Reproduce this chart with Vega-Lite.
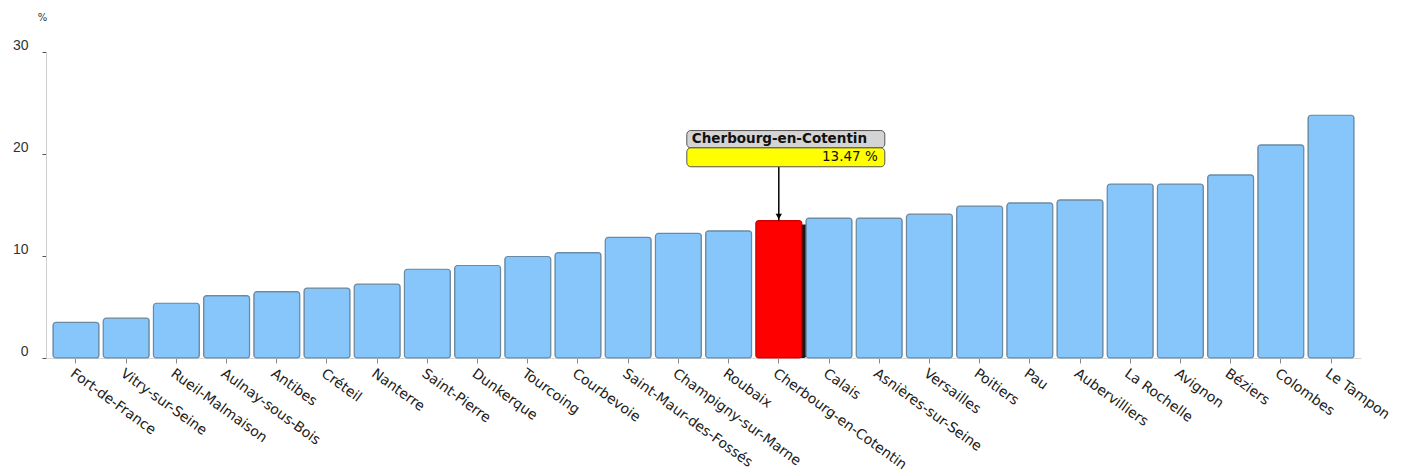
{
  "$schema": "https://vega.github.io/schema/vega-lite/v6.json",
  "autosize": "none",
  "width": 1315,
  "height": 306,
  "padding": {"left": 46, "top": 52, "right": 48, "bottom": 117},
  "background": "white",
  "config": {
    "view": {"stroke": null},
    "font": "DejaVu Sans"
  },
  "data": {
    "values": [
      {"city": "Fort-de-France", "value": 3.5},
      {"city": "Vitry-sur-Seine", "value": 3.9},
      {"city": "Rueil-Malmaison", "value": 5.37},
      {"city": "Aulnay-sous-Bois", "value": 6.12},
      {"city": "Antibes", "value": 6.5},
      {"city": "Créteil", "value": 6.85},
      {"city": "Nanterre", "value": 7.24},
      {"city": "Saint-Pierre", "value": 8.7},
      {"city": "Dunkerque", "value": 9.07},
      {"city": "Tourcoing", "value": 9.95},
      {"city": "Courbevoie", "value": 10.34},
      {"city": "Saint-Maur-des-Fossés", "value": 11.82},
      {"city": "Champigny-sur-Marne", "value": 12.21},
      {"city": "Roubaix", "value": 12.47},
      {"city": "Cherbourg-en-Cotentin", "value": 13.47},
      {"city": "Calais", "value": 13.72},
      {"city": "Asnières-sur-Seine", "value": 13.72},
      {"city": "Versailles", "value": 14.1},
      {"city": "Poitiers", "value": 14.9},
      {"city": "Pau", "value": 15.2},
      {"city": "Aubervilliers", "value": 15.5},
      {"city": "La Rochelle", "value": 17.06},
      {"city": "Avignon", "value": 17.06},
      {"city": "Béziers", "value": 17.95},
      {"city": "Colombes", "value": 20.9},
      {"city": "Le Tampon", "value": 23.8}
    ]
  },
  "encoding": {
    "x": {
      "field": "city",
      "type": "nominal",
      "sort": [
        "Fort-de-France", "Vitry-sur-Seine", "Rueil-Malmaison", "Aulnay-sous-Bois", "Antibes",
        "Créteil", "Nanterre", "Saint-Pierre", "Dunkerque", "Tourcoing", "Courbevoie",
        "Saint-Maur-des-Fossés", "Champigny-sur-Marne", "Roubaix", "Cherbourg-en-Cotentin",
        "Calais", "Asnières-sur-Seine", "Versailles", "Poitiers", "Pau", "Aubervilliers",
        "La Rochelle", "Avignon", "Béziers", "Colombes", "Le Tampon"
      ],
      "scale": {"paddingInner": 0.085, "paddingOuter": 0.14},
      "axis": {
        "title": null,
        "labelAngle": 36,
        "labelAlign": "left",
        "labelBaseline": "top",
        "labelPadding": 3,
        "labelFontSize": 14,
        "labelColor": "#222",
        "labelFont": "DejaVu Sans",
        "tickSize": 5,
        "tickColor": "#888",
        "domainColor": "#d8d8d8",
        "labelOverlap": false
      }
    },
    "y": {
      "field": "value",
      "type": "quantitative",
      "scale": {"domain": [0, 30], "nice": false},
      "axis": {
        "values": [0, 10, 20, 30],
        "grid": false,
        "tickSize": 4,
        "tickColor": "#555",
        "domainColor": "#cfcfcf",
        "labelPadding": 14,
        "labelFontSize": 14,
        "labelColor": "#333",
        "labelFont": "Liberation Sans",
        "labelBaseline": "bottom",
        "labelAlign": "right",
        "title": "%",
        "titleAngle": 0,
        "titleFontSize": 10,
        "titleFontWeight": "normal",
        "titleColor": "#333",
        "titleX": -4,
        "titleY": -35,
        "titleAlign": "center",
        "titleBaseline": "middle"
      }
    }
  },
  "layer": [
    {
      "transform": [{"filter": "datum.city === 'Cherbourg-en-Cotentin'"}],
      "mark": {"type": "bar", "color": "#000000", "opacity": 0.9, "cornerRadius": 3, "xOffset": 5, "yOffset": 4}
    },
    {
      "mark": {"type": "bar", "cornerRadius": 3, "strokeWidth": 1.2},
      "encoding": {
        "color": {
          "condition": {"test": "datum.city === 'Cherbourg-en-Cotentin'", "value": "#ff0000"},
          "value": "#86c6fb"
        },
        "stroke": {
          "condition": {"test": "datum.city === 'Cherbourg-en-Cotentin'", "value": "#d00000"},
          "value": "#6a8aa3"
        }
      }
    },
    {
      "transform": [
        {"filter": "datum.city === 'Cherbourg-en-Cotentin'"},
        {"calculate": "format(datum.value, '.2f') + ' %'", "as": "valueLabel"}
      ],
      "layer": [
        {
          "mark": {"type": "rule", "color": "#000000", "strokeWidth": 1.5},
          "encoding": {"y": {"datum": 18.75}, "y2": {"field": "value"}}
        },
        {
          "mark": {"type": "point", "shape": "triangle-down", "filled": true, "color": "#000000", "size": 40, "opacity": 1, "yOffset": -4},
          "encoding": {"y": {"field": "value"}}
        },
        {
          "mark": {"type": "bar", "width": 198, "xOffset": 7, "cornerRadius": 4, "fill": "#d4d4d4", "stroke": "#555555", "strokeWidth": 1},
          "encoding": {"y": {"datum": 20.6}, "y2": {"datum": 22.3}}
        },
        {
          "mark": {"type": "bar", "width": 198, "xOffset": 7, "cornerRadius": 4, "fill": "#ffff00", "stroke": "#555555", "strokeWidth": 1},
          "encoding": {"y": {"datum": 18.75}, "y2": {"datum": 20.6}}
        },
        {
          "mark": {"type": "text", "align": "left", "baseline": "middle", "xOffset": -87, "fontSize": 13.5, "fontWeight": "bold", "font": "DejaVu Sans", "color": "#111"},
          "encoding": {"y": {"datum": 21.45}, "text": {"field": "city"}}
        },
        {
          "mark": {"type": "text", "align": "right", "baseline": "middle", "xOffset": 99, "fontSize": 13.5, "font": "DejaVu Sans", "color": "#111"},
          "encoding": {"y": {"datum": 19.67}, "text": {"field": "valueLabel"}}
        }
      ]
    }
  ]
}
